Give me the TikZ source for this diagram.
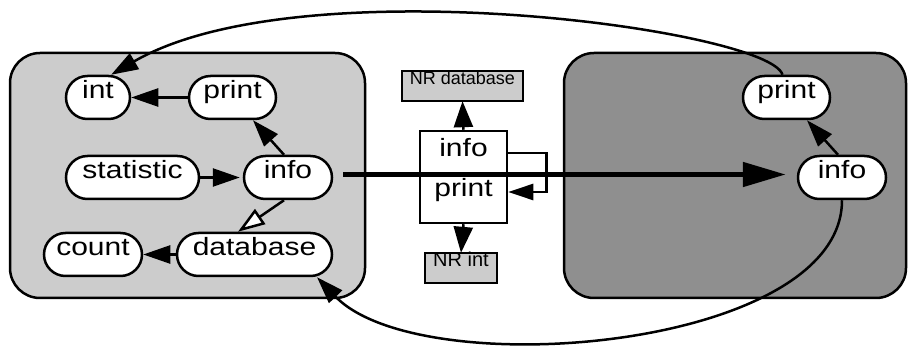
\documentclass[tikz,border=0pt]{standalone}
\usepackage{fontspec}
\newfontfamily\labfont[FakeStretch=1.2]{Liberation Sans}
\newfontfamily\nrfont{Liberation Sans}
\usetikzlibrary{arrows.meta}
\definecolor{lightpanel}{HTML}{CCCCCC}
\definecolor{darkpanel}{HTML}{8F8F8F}
\begin{document}
\begin{tikzpicture}[x=1pt,y=-1pt,
  panel/.style={draw=black, line width=2.5pt, rounded corners=30pt},
  pill/.style={draw=black, fill=white, line width=2.5pt, rounded corners=21.5pt,
    minimum height=43pt, inner xsep=0pt, inner ysep=2pt, text height=21pt, text depth=18pt,
    font=\labfont\fontsize{25}{29}\selectfont},
  cbox/.style={draw=black, fill=white, line width=2.5pt, inner sep=0pt, minimum width=87pt,
    font=\labfont\fontsize{25}{29}\selectfont},
  nrbox/.style={fill=lightpanel, inner sep=0pt},
  nrborder/.style={draw=black, line width=2.5pt},
  edge/.style={line width=2.5pt, -{Triangle[length=27pt,width=18pt]}},
  openedge/.style={line width=2.5pt, -{Triangle[open,fill=white,length=27pt,width=18pt]}},
  carrow/.style={line width=2.5pt, -{Triangle[length=26pt,width=19pt]}},
  looparrow/.style={line width=2.5pt, -{Triangle[length=25pt,width=16pt]}},
  bigarrow/.style={line width=5pt, -{Triangle[length=43pt,width=24pt]}}
]
\useasboundingbox (0,0) rectangle (908,347);
% panels
\path[panel, fill=lightpanel] (10,53) rectangle (365,298);
\path[panel, fill=darkpanel] (564,53) rectangle (906,298);
% left nodes
\node[pill, minimum width=64pt] (int) at (98,97.5) {int};
\node[pill, minimum width=87pt] (print) at (232.5,97.5) {print};
\node[pill, minimum width=133pt] (statistic) at (132.5,177.5) {statistic};
\node[pill, minimum width=88pt] (info) at (288,177.5) {info};
\node[pill, minimum width=98pt] (count) at (93,254.5) {count};
\node[pill, minimum width=155pt] (database) at (254.5,254.5) {database};
% right nodes
\node[pill, minimum width=87pt] (rprint) at (786.5,97.5) {print};
\node[pill, minimum width=88pt] (rinfo) at (842,177.5) {info};
% center
\node[cbox, text height=26pt, text depth=18pt] (cinfo) at (463.5,153) {info};
\node[cbox, text height=22pt, text depth=26pt] (cprint) at (463.5,199) {print};
\node[nrbox, minimum width=121pt, text height=13.5pt, text depth=16.5pt,
  font=\nrfont\fontsize{18}{21}\selectfont] (nrdb) at (462.5,86) {NR database};
\draw[nrborder] (nrdb.north west) rectangle (nrdb.south east);
\node[nrbox, minimum width=72pt, text height=14pt, text depth=16pt,
  font=\nrfont\fontsize{20}{24}\selectfont] (nrint) at (461,268) {NR int};
\draw[nrborder] (nrint.north west) rectangle (nrint.south east);
% left edges
\draw[edge] (print.west) -- (int.east);
\draw[edge] (info.100) -- (print.-48);
\draw[edge, shorten >=3pt] (statistic.east) -- (info.west);
\draw[openedge] (info.-100) -- (database.126);
\draw[edge] (database.west) -- (count.east);
% right edge
\draw[edge] (rinfo.100) -- (rprint.-48);
% center edges
\draw[carrow] (cinfo.north) -- (nrdb.south);
\draw[carrow] (cprint.south) -- (nrint.north);
\draw[looparrow] (cinfo.east) -- ++(38,0) |- ([yshift=7pt]cprint.east);
% thick arrow
\draw[bigarrow, shorten <=10pt, shorten >=11pt] ([yshift=3pt]info.east) -- ([yshift=3pt]rinfo.west);
% long curves
\draw[edge] (rprint.100) .. controls (770,30) and (300,-35) .. (int.60);
\draw[edge] (rinfo.-90) .. controls (842,350) and (420,385) .. (database.-20);
\end{tikzpicture}
\end{document}
